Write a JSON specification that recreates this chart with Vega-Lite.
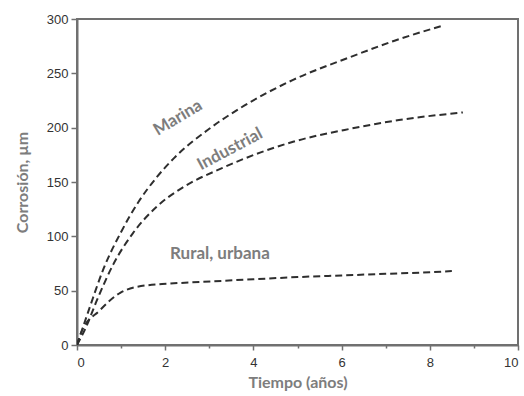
{
  "$schema": "https://vega.github.io/schema/vega-lite/v6.json",
  "width": 441,
  "height": 326,
  "autosize": {"type": "none"},
  "padding": {"left": 77, "top": 19, "right": 6, "bottom": 51},
  "background": "white",
  "config": {
    "view": {"stroke": "#707070", "strokeWidth": 2},
    "axis": {
      "domainColor": "#707070",
      "domainWidth": 2,
      "tickColor": "#707070",
      "tickWidth": 1.5,
      "grid": false,
      "labelFont": "Liberation Sans",
      "labelFontSize": 13,
      "labelColor": "#333333",
      "titleFont": "Lato",
      "titleFontSize": 16,
      "titleFontWeight": "bold",
      "titleColor": "#7d7d7d"
    }
  },
  "datasets": {
    "curvas": [
      {"t": 0, "c": 0, "serie": "Marina"},
      {"t": 0.3, "c": 36, "serie": "Marina"},
      {"t": 0.6, "c": 70, "serie": "Marina"},
      {"t": 1, "c": 104, "serie": "Marina"},
      {"t": 1.4, "c": 132, "serie": "Marina"},
      {"t": 1.8, "c": 154, "serie": "Marina"},
      {"t": 2.2, "c": 172, "serie": "Marina"},
      {"t": 3, "c": 199, "serie": "Marina"},
      {"t": 3.7, "c": 218, "serie": "Marina"},
      {"t": 4.9, "c": 244, "serie": "Marina"},
      {"t": 6.2, "c": 265, "serie": "Marina"},
      {"t": 7.2, "c": 280, "serie": "Marina"},
      {"t": 8.3, "c": 294, "serie": "Marina"},
      {"t": 0, "c": 0, "serie": "Industrial"},
      {"t": 0.2, "c": 16, "serie": "Industrial"},
      {"t": 0.45, "c": 41, "serie": "Industrial"},
      {"t": 0.82, "c": 74, "serie": "Industrial"},
      {"t": 1.27, "c": 103, "serie": "Industrial"},
      {"t": 1.8, "c": 127, "serie": "Industrial"},
      {"t": 2.4, "c": 145, "serie": "Industrial"},
      {"t": 3.3, "c": 163, "serie": "Industrial"},
      {"t": 4.15, "c": 177, "serie": "Industrial"},
      {"t": 4.9, "c": 187, "serie": "Industrial"},
      {"t": 6.2, "c": 199, "serie": "Industrial"},
      {"t": 7.3, "c": 207, "serie": "Industrial"},
      {"t": 8.75, "c": 214, "serie": "Industrial"},
      {"t": 0, "c": 0, "serie": "Rural, urbana"},
      {"t": 0.1, "c": 12, "serie": "Rural, urbana"},
      {"t": 0.52, "c": 32, "serie": "Rural, urbana"},
      {"t": 0.98, "c": 48, "serie": "Rural, urbana"},
      {"t": 1.35, "c": 53.5, "serie": "Rural, urbana"},
      {"t": 2.1, "c": 56.5, "serie": "Rural, urbana"},
      {"t": 2.8, "c": 58, "serie": "Rural, urbana"},
      {"t": 4, "c": 60.5, "serie": "Rural, urbana"},
      {"t": 5, "c": 62.5, "serie": "Rural, urbana"},
      {"t": 6, "c": 64, "serie": "Rural, urbana"},
      {"t": 7, "c": 65.5, "serie": "Rural, urbana"},
      {"t": 8, "c": 67, "serie": "Rural, urbana"},
      {"t": 8.5, "c": 68, "serie": "Rural, urbana"}
    ],
    "etiquetas": [
      {"t": 2.29, "c": 209, "texto": "Marina", "angulo": -31},
      {"t": 3.47, "c": 180, "texto": "Industrial", "angulo": -28},
      {"t": 3.24, "c": 84, "texto": "Rural, urbana", "angulo": 0}
    ]
  },
  "layer": [
    {
      "data": {"name": "curvas"},
      "mark": {
        "type": "line",
        "interpolate": "monotone",
        "stroke": "#2e2e2e",
        "strokeWidth": 2,
        "strokeDash": [7, 4],
        "clip": true
      },
      "encoding": {
        "x": {
          "field": "t",
          "type": "quantitative",
          "scale": {"domain": [0, 10], "nice": false},
          "axis": {
            "title": "Tiempo (años)",
            "values": [0, 1, 2, 3, 4, 5, 6, 7, 8, 9, 10],
            "labelExpr": "datum.value % 2 === 0 ? datum.label : ''",
            "tickSize": {"condition": {"test": "datum.value % 2 === 0", "value": 5}, "value": 3},
            "labelPadding": 6,
            "titlePadding": 5
          }
        },
        "y": {
          "field": "c",
          "type": "quantitative",
          "scale": {"domain": [0, 300], "nice": false},
          "axis": {
            "title": "Corrosión, µm",
            "values": [0, 25, 50, 75, 100, 125, 150, 175, 200, 225, 250, 275, 300],
            "labelExpr": "datum.value % 50 === 0 ? datum.label : ''",
            "tickSize": {"condition": {"test": "datum.value % 50 === 0", "value": 6}, "value": 3},
            "labelPadding": 3,
            "titlePadding": 16
          }
        },
        "detail": {"field": "serie"}
      }
    },
    {
      "data": {"name": "etiquetas"},
      "mark": {
        "type": "text",
        "font": "Lato",
        "fontSize": 17,
        "fontWeight": "bold",
        "fill": "#7d7d7d",
        "align": "center",
        "baseline": "middle"
      },
      "encoding": {
        "x": {"field": "t", "type": "quantitative"},
        "y": {"field": "c", "type": "quantitative"},
        "text": {"field": "texto"},
        "angle": {"field": "angulo", "type": "quantitative", "scale": null}
      }
    }
  ]
}
